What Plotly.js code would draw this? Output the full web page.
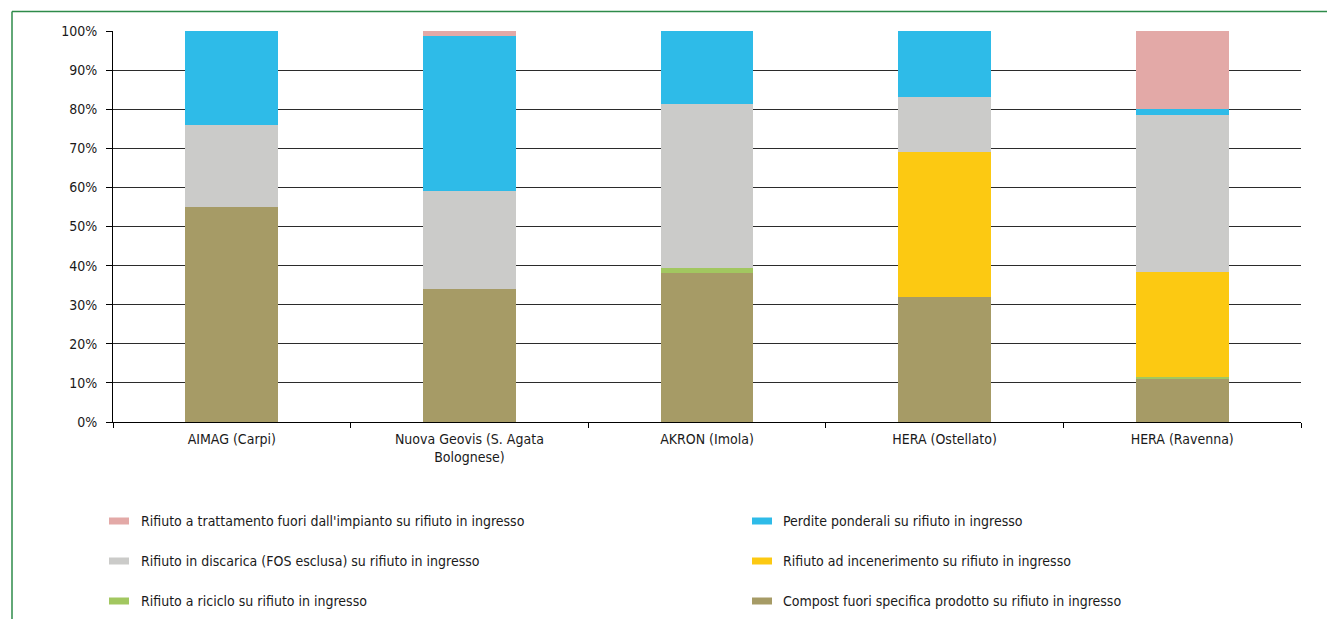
<!DOCTYPE html>
<html>
<head>
<meta charset="utf-8">
<script src="https://cdn.plot.ly/plotly-3.0.1.min.js"></script>
<style>
html,body{margin:0;padding:0;background:#fff;}
#chart{width:1327px;height:619px;}
</style>
</head>
<body>
<div id="chart"></div>
<script>
// Categories
const categories = ["AIMAG (Carpi)", "Nuova Geovis (S. Agata<br>Bolognese)", "AKRON (Imola)", "HERA (Ostellato)", "HERA (Ravenna)"];

// Series values (% of incoming waste), stacked bottom to top
const compostFuoriSpecifica = [55.0, 34.0, 38.0, 31.9, 11.0];
const rifiutoRiciclo        = [0.0, 0.0, 1.3, 0.0, 0.4];
const rifiutoIncenerimento  = [0.0, 0.0, 0.0, 37.2, 27.0];
const rifiutoDiscarica      = [21.0, 25.1, 42.0, 14.0, 40.2];
const perditePonderali      = [24.0, 39.7, 18.7, 16.9, 1.4];
const rifiutoFuoriImpianto  = [0.0, 1.2, 0.0, 0.0, 20.0];

const seriesNames = [
  "Compost fuori specifica prodotto su rifiuto in ingresso",
  "Rifiuto a riciclo su rifiuto in ingresso",
  "Rifiuto ad incenerimento su rifiuto in ingresso",
  "Rifiuto in discarica (FOS esclusa) su rifiuto in ingresso",
  "Perdite ponderali su rifiuto in ingresso",
  "Rifiuto a trattamento fuori dall'impianto su rifiuto in ingresso"
];
const seriesColors = ["#A69B66", "#A2C760", "#FCC912", "#CBCBC9", "#2EBBE8", "#E3A9A7"];
const seriesValues = [compostFuoriSpecifica, rifiutoRiciclo, rifiutoIncenerimento, rifiutoDiscarica, perditePonderali, rifiutoFuoriImpianto];

const yTickVals = [0,10,20,30,40,50,60,70,80,90,100];
const yTickText = ["0%","10%","20%","30%","40%","50%","60%","70%","80%","90%","100%"];

const FONT = "'Liberation Sans Narrow', 'DejaVu Sans Condensed', Arial, sans-serif";
const FS = 14;

const traces = seriesValues.map((vals, i) => ({
  type: "bar",
  name: seriesNames[i],
  x: categories,
  y: vals,
  marker: {color: seriesColors[i], line: {width: 0}},
  showlegend: false,
  hoverinfo: "name+y"
}));

// Custom legend (two columns, three rows), order: top of stack first
const legendOrder = [5, 4, 3, 2, 1, 0];
const plotH = 391, plotW = 1188;
const shapes = [];
const annotations = [];
legendOrder.forEach((si, k) => {
  const col = k % 2, row = Math.floor(k / 2);
  const swX0 = col === 0 ? 109 : 752;
  const txtX = col === 0 ? 139 : 781;
  const cy = 521 + row * 40;
  shapes.push({
    type: "rect", xref: "paper", yref: "paper",
    x0: (swX0 - 113) / plotW, x1: (swX0 + 20 - 113) / plotW,
    y0: (422 - (cy - 3.5)) / plotH, y1: (422 - (cy + 3.5)) / plotH,
    fillcolor: seriesColors[si], line: {width: 0}
  });
  annotations.push({
    xref: "paper", yref: "paper",
    x: (txtX - 113) / plotW, y: (422 - cy) / plotH,
    xanchor: "left", yanchor: "middle", showarrow: false,
    text: seriesNames[si], font: {family: FONT, size: FS, color: "#1a1a1a"}
  });
});

// Outer green frame (top and left edges visible)
shapes.push({type: "line", xref: "paper", yref: "paper",
  x0: (12 - 113) / plotW, x1: (1330 - 113) / plotW,
  y0: (422 - 11.5) / plotH, y1: (422 - 11.5) / plotH,
  line: {color: "#2E8B4A", width: 1.5}});
shapes.push({type: "line", xref: "paper", yref: "paper",
  x0: (12 - 113) / plotW, x1: (12 - 113) / plotW,
  y0: (422 - 11.5) / plotH, y1: (422 - 640) / plotH,
  line: {color: "#2E8B4A", width: 1.5}});

const layout = {
  width: 1327, height: 619,
  margin: {l: 113, r: 26, t: 31, b: 197},
  paper_bgcolor: "#ffffff",
  plot_bgcolor: "#ffffff",
  barmode: "stack",
  bargap: 0.61,
  font: {family: FONT, size: FS, color: "#1a1a1a"},
  xaxis: {
    type: "category",
    showline: true, linecolor: "#000", linewidth: 1,
    ticks: "outside", tickson: "boundaries", ticklen: 5, tickcolor: "#000",
    showgrid: false,
    tickfont: {family: FONT, size: FS, color: "#1a1a1a"},
    ticklabelstandoff: 4,
    fixedrange: true
  },
  yaxis: {
    range: [0, 100],
    tickvals: yTickVals, ticktext: yTickText,
    showline: true, linecolor: "#000", linewidth: 1,
    ticks: "outside", ticklen: 6, tickcolor: "#000",
    showgrid: true, gridcolor: "#2b2b2b", gridwidth: 1,
    zeroline: false,
    tickfont: {family: FONT, size: FS, color: "#1a1a1a"},
    ticklabelstandoff: 6,
    fixedrange: true
  },
  shapes: shapes,
  annotations: annotations,
  showlegend: false
};

Plotly.newPlot("chart", traces, layout, {displayModeBar: false, staticPlot: true});
</script>
</body>
</html>
